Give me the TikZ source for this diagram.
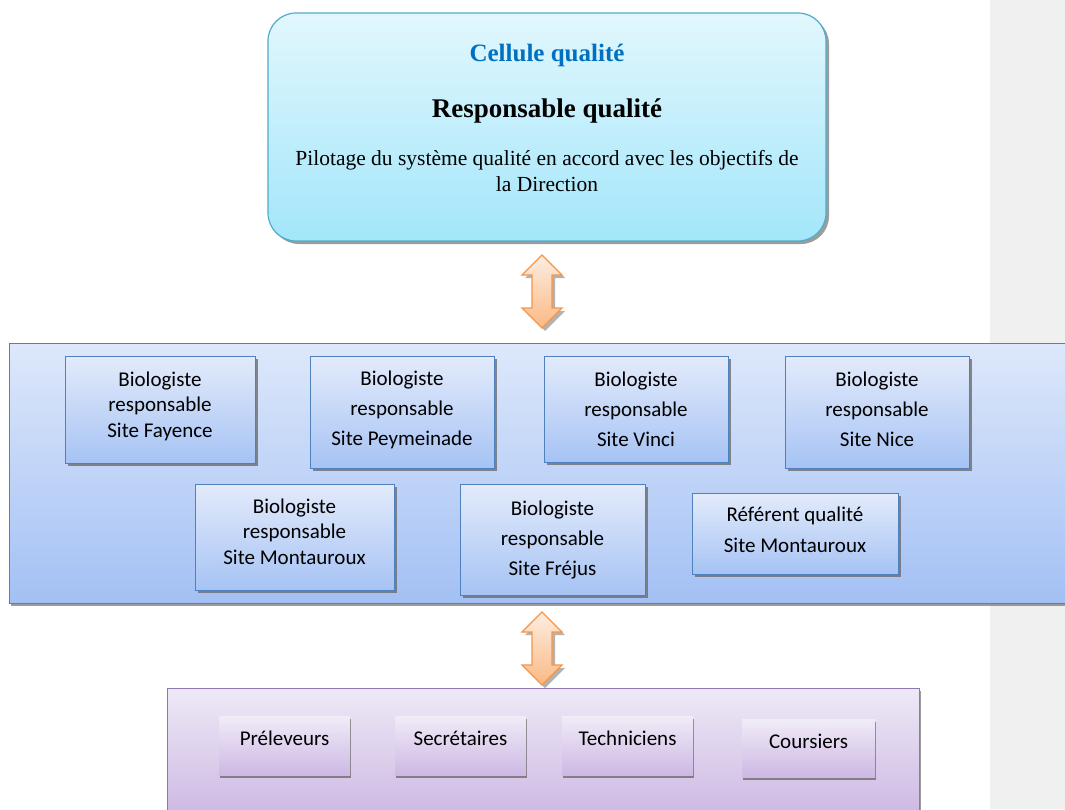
\documentclass[tikz,border=0pt]{standalone}
\usepackage{fontspec}
\setmainfont{Liberation Serif}
\newfontfamily\calib{Carlito}
\usetikzlibrary{shadows}
\definecolor{topA}{HTML}{E2F7FD}
\definecolor{topB}{HTML}{A3E6FA}
\definecolor{topline}{HTML}{4FACCB}
\definecolor{cellblue}{HTML}{0070C0}
\definecolor{midA}{HTML}{DDE8FB}
\definecolor{midB}{HTML}{A3C0F4}
\definecolor{midline}{HTML}{4F81BD}
\definecolor{inA}{HTML}{E3EBFB}
\definecolor{inB}{HTML}{A6C3F4}
\definecolor{botA}{HTML}{EEE9F6}
\definecolor{botB}{HTML}{CBB6E2}
\definecolor{botline}{HTML}{8E77B4}
\definecolor{binA}{HTML}{F1ECF8}
\definecolor{binB}{HTML}{CDB8E3}
\definecolor{arrA}{HTML}{FEEDE0}
\definecolor{arrB}{HTML}{FAB985}
\definecolor{arrline}{HTML}{F79646}
\definecolor{band}{HTML}{F0F0F0}
\begin{document}
\begin{tikzpicture}[x=1pt,y=-1pt,
  topbox/.style={draw=topline, line width=1.2pt, rounded corners=28pt,
    top color=topA, bottom color=topB, inner sep=0pt, outer sep=0pt,
    drop shadow={shadow xshift=3pt, shadow yshift=-3pt, fill=black!55, opacity=.7}},
  midbox/.style={draw=midline, line width=1pt, top color=midA, bottom color=midB,
    inner sep=0pt, outer sep=0pt,
    drop shadow={shadow xshift=2pt, shadow yshift=-3pt, fill=black!55, opacity=.7}},
  inbox/.style={draw=midline, line width=1pt, top color=inA, bottom color=inB,
    inner sep=0pt, outer sep=0pt, align=center,
    font=\calib\fontsize{21}{25.5}\selectfont,
    drop shadow={shadow xshift=3pt, shadow yshift=-3pt, fill=black!60, opacity=.75}},
  wide/.style={font=\calib\fontsize{21}{30}\selectfont},
  botbox/.style={draw=botline, line width=1pt, top color=botA, bottom color=botB,
    inner sep=0pt, outer sep=0pt,
    drop shadow={shadow xshift=2pt, shadow yshift=-3pt, fill=black!55, opacity=.7}},
  binbox/.style={top color=binA, bottom color=binB, inner sep=0pt, outer sep=0pt,
    font=\calib\fontsize{21}{25}\selectfont, text height=10pt, text depth=10pt,
    minimum width=131pt, minimum height=59pt, anchor=north west,
    drop shadow={shadow xshift=1pt, shadow yshift=-3pt, fill=black!60, opacity=.75}},
  arrsty/.style={draw=arrline, line width=1.2pt, top color=arrA, bottom color=arrB,
    drop shadow={shadow xshift=3pt, shadow yshift=-3pt, fill=black!50, opacity=.6}},
  dblarr/.pic={\path[arrsty] (0,-36.5) -- (20,-16.5) -- (10,-16.5) -- (10,16.5)
    -- (20,16.5) -- (0,36.5) -- (-20,16.5) -- (-10,16.5) -- (-10,-16.5)
    -- (-20,-16.5) -- cycle;}
]
\useasboundingbox (0,0) rectangle (1065,809);
\fill[white] (0,0) rectangle (990,809);
\fill[band] (990,0) rectangle (1065,809);

% top box
\node[topbox, minimum width=558pt, minimum height=228pt, anchor=north west] (top) at (268,13) {};
\node[font=\bfseries\fontsize{25}{30}\selectfont, text=cellblue, anchor=base] (t1) at (547,61) {Cellule qualité};
\node[font=\bfseries\fontsize{27}{32}\selectfont, anchor=base] (t2) at (547,117) {Responsable qualité};
\node[font=\fontsize{21.5}{26}\selectfont, anchor=base] (t3) at (547,165) {Pilotage du système qualité en accord avec les objectifs de};
\node[font=\fontsize{21.5}{26}\selectfont, anchor=base] (t4) at (547,191) {la Direction};

% arrow 1
\coordinate (a1) at (542,291.5);
\pic (arr1) at (a1) {dblarr};

% middle box
\node[midbox, minimum width=1062pt, minimum height=260pt, anchor=north west] (mid) at (9,343) {};
\node[inbox, text depth=10pt, minimum width=190pt, minimum height=107pt, anchor=north west] (fay) at (65,356) {Biologiste\\responsable\\Site Fayence};
\node[inbox, wide, text depth=7.5pt, minimum width=184pt, minimum height=112pt, anchor=north west] (pey) at (310,356) {Biologiste\\responsable\\Site Peymeinade};
\node[inbox, wide, minimum width=184pt, minimum height=106pt, anchor=north west] (vin) at (544,356) {Biologiste\\responsable\\Site Vinci};
\node[inbox, wide, text depth=6pt, minimum width=184pt, minimum height=112pt, anchor=north west] (nic) at (785,356) {Biologiste\\responsable\\Site Nice};
\node[inbox, text depth=11pt, minimum width=199pt, minimum height=106pt, anchor=north west] (mon) at (195,484) {Biologiste\\responsable\\Site Montauroux};
\node[inbox, wide, minimum width=185pt, minimum height=111pt, anchor=north west] (fre) at (460,484) {Biologiste\\responsable\\Site Fréjus};
\node[inbox, font=\calib\fontsize{21}{31}\selectfont, text depth=8pt, minimum width=206pt, minimum height=81pt, anchor=north west] (ref) at (692,493) {Référent qualité\\Site Montauroux};

% arrow 2
\coordinate (a2) at (542,648.5);
\pic (arr2) at (a2) {dblarr};

% bottom box
\node[botbox, minimum width=752pt, minimum height=135pt, anchor=north west] (bot) at (167,688) {};
\node[binbox] (pre) at (219,716) {Préleveurs};
\node[binbox] (sec) at (395,716) {Secrétaires};
\node[binbox] (tec) at (562,716) {Techniciens};
\node[binbox, minimum width=133pt, minimum height=58pt] (cou) at (742,719) {Coursiers};
\end{tikzpicture}
\end{document}
